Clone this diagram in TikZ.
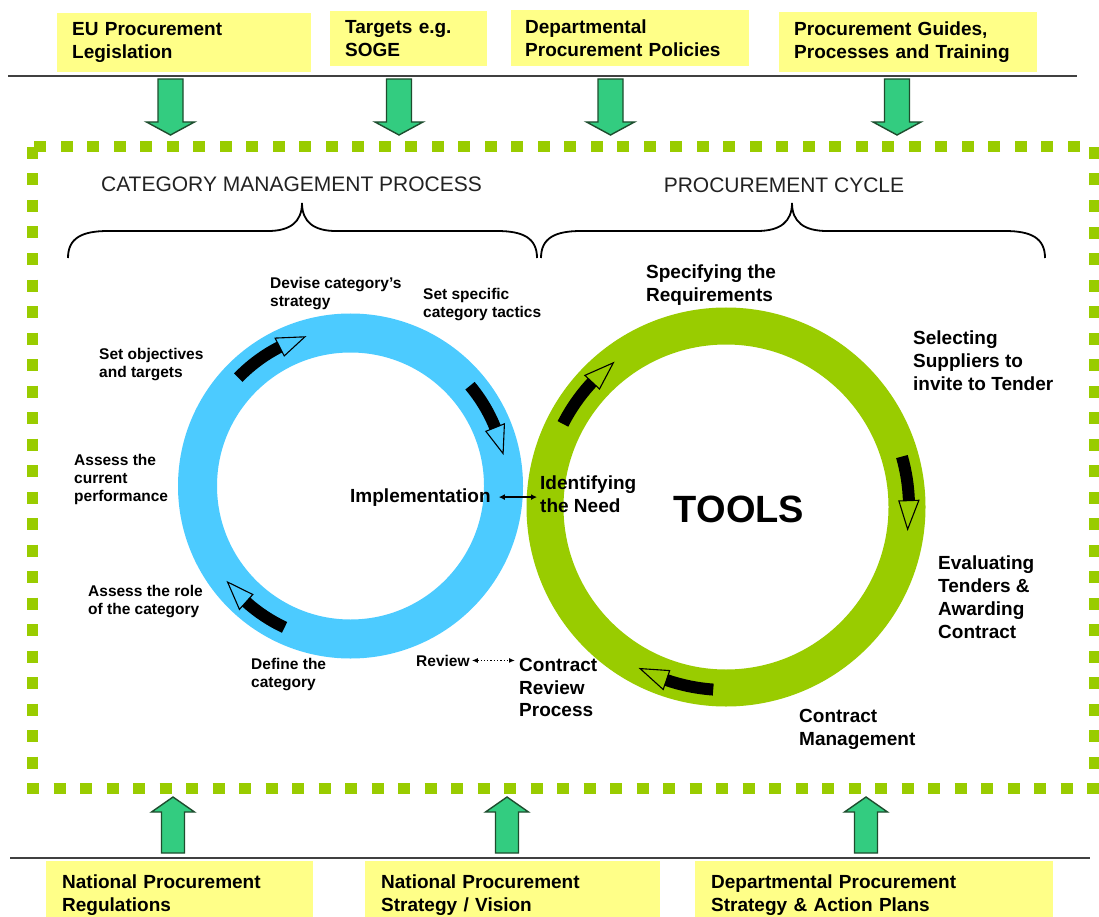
\documentclass[tikz,border=0pt]{standalone}
\usepackage{fontspec}
\setmainfont{Liberation Sans}
\usetikzlibrary{calc,arrows.meta}
\definecolor{ringblue}{HTML}{4CCBFF}
\definecolor{ringgreen}{HTML}{99CC00}
\definecolor{boxyellow}{HTML}{FFFF88}
\definecolor{arrowgreen}{HTML}{33CC80}
\definecolor{arrowedge}{HTML}{1E4D2E}
\definecolor{titlegray}{HTML}{222222}
\newcommand\downblk[1]{\filldraw[blockarrow] (#1-12.5,-79) -- (#1+12.5,-79) -- (#1+12.5,-122) -- (#1+24,-122) -- (#1,-135) -- (#1-24,-122) -- (#1-12.5,-122) -- cycle;}
\newcommand\upblk[1]{\filldraw[blockarrow] (#1-11.5,-853) -- (#1+11.5,-853) -- (#1+11.5,-812) -- (#1+21.5,-812) -- (#1,-797) -- (#1-21.5,-812) -- (#1-11.5,-812) -- cycle;}
\newcommand\cycarrow[5]{%
  \draw[line width=12pt] ($(#1)+(#3:#2)$) arc[start angle=#3, end angle=#4, radius=#2];
  \draw[line width=1.1pt, line join=miter] ($(#1)+(#4:{#2+10})$) -- ($(#1)+(#5:#2)$) -- ($(#1)+(#4:{#2-10})$) -- cycle;}
\begin{document}
\begin{tikzpicture}[x=1pt,y=1pt,
  ybox/.style={fill=boxyellow, inner xsep=15pt, inner ysep=9.5pt, anchor=north west, align=left,
    font=\bfseries\fontsize{19}{23}\selectfont},
  bbox/.style={fill=boxyellow, inner xsep=16pt, inner ysep=14pt, anchor=north west, align=left,
    font=\bfseries\fontsize{19}{23}\selectfont},
  blockarrow/.style={fill=arrowgreen, draw=arrowedge, line width=1.4pt, line join=miter},
  sep/.style={draw=black!75, line width=2pt},
  frame/.style={draw=ringgreen, line width=11pt, dash pattern=on 12pt off 14.5pt},
  title/.style={font=\fontsize{21}{25}\selectfont, text=titlegray, inner sep=0pt, anchor=base},
  brace/.style={draw=black, line width=1.8pt},
  small/.style={inner sep=0pt, anchor=north west, align=left, font=\bfseries\fontsize{15.5}{18.3}\selectfont},
  big/.style={inner sep=0pt, anchor=north west, align=left, font=\bfseries\fontsize{19}{22.7}\selectfont},
  tip/.style={-{Latex[length=6pt,width=6pt]}}
]
\useasboundingbox (0,0) rectangle (1099,-917);
\fill[white] (0,0) rectangle (1099,-917);

% separators
\draw[sep] (8,-76) -- (1077,-76);
\draw[sep] (10,-858) -- (1090,-858);

% top boxes
\node[ybox, text width=224pt] (b1) at (57,-13) {EU Procurement\\Legislation};
\node[ybox, text width=127pt] (b2) at (330,-11) {Targets e.g.\\SOGE};
\node[ybox, text width=210pt, inner xsep=14pt] (b3) at (511,-10) {Departmental\\Procurement Policies};
\node[ybox, text width=228pt] (b4) at (779,-12) {Procurement Guides,\\Processes and Training};

% bottom boxes
\node[bbox, text width=235pt] (b5) at (46,-861) {National Procurement\\Regulations};
\node[bbox, text width=263pt] (b6) at (365,-861) {National Procurement\\Strategy / Vision};
\node[bbox, text width=326pt] (b7) at (695,-861) {Departmental Procurement\\Strategy \& Action Plans};

% dotted frame
\draw[frame] (32,-147) rectangle (1094,-788);

% block arrows
\downblk{170.5}
\downblk{399}
\downblk{610.5}
\downblk{897}
\upblk{173}
\upblk{507}
\upblk{866}

% titles and braces
\node[title] (cmp) at (291.5,-192) {CATEGORY MANAGEMENT PROCESS};
\node[title] (pc) at (784,-193) {PROCUREMENT CYCLE};
\draw[brace] (68,-258) .. controls (68,-238) and (82,-231) .. (108,-231) -- (268,-231)
  .. controls (290,-231) and (302,-222) .. (302,-203)
  .. controls (302,-222) and (314,-231) .. (336,-231) -- (497,-231)
  .. controls (523,-231) and (537,-238) .. (537,-258);
\draw[brace] (541,-258) .. controls (541,-238) and (555,-231) .. (581,-231) -- (757,-231)
  .. controls (780,-231) and (792,-222) .. (792,-203)
  .. controls (792,-222) and (804,-231) .. (827,-231) -- (1005,-231)
  .. controls (1031,-231) and (1045,-238) .. (1045,-258);

% rings
\coordinate (bc) at (350.5,-486);
\coordinate (gc) at (726,-507);
\draw[ringblue, line width=39pt] (bc) circle[radius=153];
\draw[ringgreen, line width=37pt] (gc) circle[radius=181];

% cycle arrows
\cycarrow{bc}{156}{136}{117}{107}
\cycarrow{bc}{156}{40}{22}{12}
\cycarrow{bc}{156}{245}{228}{218}
\cycarrow{gc}{183}{153}{137}{128}
\cycarrow{gc}{183}{16}{2}{-7}
\cycarrow{gc}{183}{266}{251}{242}

% category management labels
\node[small] (dcs) at (270,-276.7) {Devise category's\\strategy};
\node[small] (ssct) at (423,-288.2) {Set specific\\category tactics};
\node[small] (sot) at (99,-347.7) {Set objectives\\and targets};
\node[small] (act) at (74,-453.7) {Assess the\\current\\performance};
\node[small] (arc) at (88,-584.7) {Assess the role\\of the category};
\node[small] (dtc) at (251,-657.7) {Define the\\category};
\node[inner sep=0pt, anchor=base west, font=\bfseries\fontsize{15.5}{18.3}\selectfont] (rev) at (416,-666) {Review};

% procurement cycle labels
\node[big] (spec) at (646,-265) {Specifying the\\Requirements};
\node[big] (sel) at (913,-331) {Selecting\\Suppliers to\\invite to Tender};
\node[big] (eval) at (938,-556) {Evaluating\\Tenders \&\\Awarding\\Contract};
\node[big] (cm) at (799,-709) {Contract\\Management};
\node[big] (crp) at (519,-658) {Contract\\Review\\Process};
\node[inner sep=0pt, anchor=base west, font=\bfseries\fontsize{19}{23}\selectfont] (impl) at (350,-502) {Implementation};
\node[big] (ident) at (540,-476) {Identifying\\the Need};
\node[inner sep=0pt, anchor=base, font=\bfseries\fontsize{38}{44}\selectfont] (tools) at (739,-522) {TOOLS};

% connectors
\draw[line width=1.5pt, {Latex[length=6pt,width=6pt]}-{Latex[length=6pt,width=6pt]}, shorten <=8pt, shorten >=3pt] (impl.east) -- (impl.east -| ident.west);
\draw[line width=1.3pt, dotted, {Latex[length=6pt,width=5pt]}-{Latex[length=6pt,width=5pt]}, shorten <=2pt, shorten >=4pt] (rev.east) -- (rev.east -| crp.west);
\end{tikzpicture}
\end{document}
